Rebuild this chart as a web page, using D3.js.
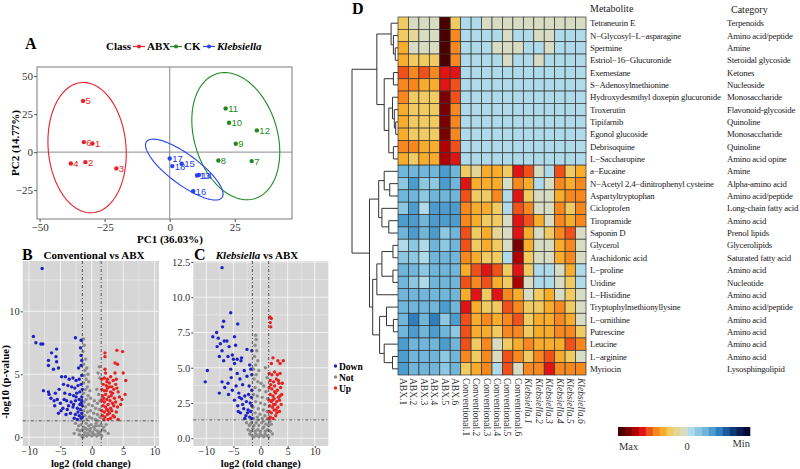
<!DOCTYPE html>
<html>
<head>
<meta charset="utf-8">
<script src="https://cdn.jsdelivr.net/npm/d3@7"></script>
<style>
  body { margin: 0; background: #fff; }
  svg { display: block; }
</style>
</head>
<body>
<div id="chart"></div>
<script>
// ---- panel A : PCA scores ----
const abxScores = [[-29.7, 5.7], [-32.4, -6.6], [-20.5, -10.7], [-38, -7.5], [-33.3, 33.7], [-33, 6.6]];
const ckScores = [[31.5, -5.9], [18.7, -5.5], [25.4, 5.5], [22.8, 19.3], [21.5, 28.7], [33.5, 14.3]];
const klebScores = [[10.5, -15.4], [11.2, -15.1], [4.6, -7.7], [9, -25.7], [0, -4.2], [1, -9.2]];
const abxIds = ['1', '2', '3', '4', '5', '6'];
const ckIds = ['7', '8', '9', '10', '11', '12'];
const klebIds = ['13', '14', '15', '16', '17', '18'];
// ellipse: centre x, centre y, then lower-triangular shape terms (data units)
const abxEllipse = [-31.75, 2.95, 15.05, -4.0, 42.7];
const ckEllipse = [25.4, 10.5, 16.9, -10.5, 40.5];
const klebEllipse = [5.6, -11.5, 14.9, -16.1, 11.9];
const pcaXTicks = [-50, -25, 0, 25];
const pcaYTicks = [50, 25, 0, -25];

// ---- panel B : Conventional vs ABX ----
const convDown = [[-7.9,13.4],[-9.3,8.0],[-8.9,7.5],[-8.1,7.4],[-7.8,7.4],[-2.6,7.9],[-1.7,7.7],[-5.6,7.0],[-6.4,6.7],[-5.7,6.4],
  [-6.9,6.1],[-5.6,6.0],[-1.8,7.1],[-1.7,6.5],[-1.6,6.1],[-6.9,5.7],[-6.1,5.4],[-5.3,5.5],[-2.1,5.5],[-1.7,5.7],[-7.7,3.7],
  [-6.9,3.6],[-4.8,4.8],[-4.2,4.8],[-3.6,4.6],[-3.0,4.7],[-2.5,4.5],[-2.0,4.6],[-1.6,4.9],[-4.5,4.2],[-3.8,4.1],[-3.2,4.0],
  [-2.7,3.9],[-2.2,4.1],[-1.7,4.2],[-1.5,3.8],[-5.8,3.5],[-5.2,3.8],[-4.3,3.5],[-3.5,3.4],[-2.9,3.3],[-2.4,3.5],[-1.9,3.6],
  [-1.6,3.2],[-6.5,3.1],[-6.0,2.9],[-5.5,3.0],[-5.0,2.7],[-4.0,2.9],[-3.3,2.8],[-2.6,2.9],[-2.0,3.0],[-1.7,2.7],[-4.6,2.3],
  [-3.9,2.2],[-3.0,2.4],[-2.3,2.3],[-1.8,2.2],[-1.5,2.5],[-5.3,1.9],[-4.1,1.8],[-3.4,1.9],[-2.6,1.8],[-2.0,1.7],[-1.6,1.9],
  [-2.3,1.4],[-1.7,1.5],[-2.9,2.6],[-2.2,2.0],[-1.9,2.6],[-1.5,1.6],[-2.5,3.2],[-3.7,2.5],[-4.4,3.0],[-6.8,3.4],[-5.9,2.5],
  [-4.9,2.1],[-2.8,1.5],[-1.6,2.9]];
const convUp = [[2.1,6.7],[2.1,6.4],[4.0,6.9],[4.9,6.8],[3.7,5.9],[4.1,5.8],[3.7,5.1],[2.1,5.4],[2.2,5.1],[5.0,5.1],[5.4,4.5],
  [5.3,3.4],[4.2,3.6],[4.2,1.4],[1.6,4.6],[2.0,4.7],[2.5,4.6],[3.0,4.8],[3.4,4.5],[1.8,4.2],[2.3,4.1],[2.8,4.3],[3.2,4.0],
  [3.8,4.2],[1.6,3.8],[2.0,3.7],[2.5,3.9],[3.0,3.6],[3.5,3.8],[4.0,3.9],[1.7,3.3],[2.2,3.4],[2.7,3.2],[3.1,3.3],[3.6,3.1],
  [4.4,3.2],[1.6,2.9],[2.0,2.8],[2.4,3.0],[2.9,2.9],[3.3,2.7],[3.8,2.8],[1.8,2.5],[2.2,2.4],[2.6,2.6],[3.0,2.3],[3.5,2.5],
  [4.6,2.6],[1.6,2.1],[2.0,2.0],[2.4,2.2],[2.8,1.9],[3.2,2.1],[3.9,2.0],[1.7,1.7],[2.1,1.6],[2.5,1.8],[3.0,1.5],[1.9,1.4],
  [2.6,1.4],[3.4,1.7],[4.1,2.4],[4.8,3.0],[2.3,3.7],[2.8,4.0],[3.3,3.5],[1.9,3.1],[2.6,2.1],[3.6,1.6],[2.4,4.4],[3.9,4.6]];
const convNot = [[-1.3,7.8],[-1.2,7.3],[-1.4,6.8],[-1.0,6.2],[-1.3,5.8],[-0.8,5.5],[-1.1,5.3],[-0.6,5.0],[-1.2,4.9],[-0.9,4.6],
  [-0.5,4.4],[-1.3,4.3],[1.2,5.6],[1.0,5.1],[1.3,4.7],[-0.7,4.0],[-1.0,3.8],[-0.3,3.7],[-1.3,3.5],[-0.6,3.3],[0.8,3.8],
  [1.1,3.4],[-0.2,3.1],[-0.9,3.0],[-1.2,2.8],[0.4,2.9],[0.9,2.7],[1.3,2.9],[-0.5,2.6],[-1.0,2.4],[0.1,2.5],[0.6,2.3],[1.2,2.2],
  [-1.3,2.1],[-0.7,2.0],[-0.2,2.1],[0.3,1.9],[0.9,1.8],[1.3,1.6],[-1.1,1.7],[-0.4,1.6],[0.0,1.5],[0.6,1.4],[-0.8,1.4],[1.0,1.3],
  [-1.4,1.3],[-2.6,1.1],[-2.1,0.9],[-1.7,1.0],[-1.3,0.8],[-0.9,1.1],[-0.5,0.9],[-0.1,1.0],[0.3,0.8],[0.7,1.1],[1.1,0.9],
  [1.5,1.0],[1.9,0.8],[2.3,1.0],[-2.3,0.6],[-1.9,0.5],[-1.5,0.6],[-1.1,0.4],[-0.7,0.6],[-0.3,0.5],[0.1,0.4],[0.5,0.6],[0.9,0.5],
  [1.3,0.4],[1.7,0.6],[2.1,0.5],[-2.0,0.2],[-1.6,0.1],[-1.2,0.2],[-0.8,0.1],[-0.4,0.2],[0.0,0.1],[0.4,0.2],[0.8,0.1],[1.2,0.2],
  [1.6,0.1],[-1.4,0.0],[-0.6,0.3],[0.2,0.3],[1.0,0.3],[-2.8,0.3],[2.6,0.3],[-0.2,0.7],[0.6,0.9],[-1.0,0.7]];

// ---- panel C : Klebsiella vs ABX ----
const klebDown = [[-7.1,12.1],[-5.5,8.9],[-6.8,8.3],[-4.2,8.1],[-7.0,7.9],[-8.1,7.5],[-8.8,7.2],[-7.8,7.1],[-6.2,6.9],[-4.8,7.2],
  [-7.4,6.7],[-6.7,6.9],[-5.8,6.5],[-8.0,6.5],[-4.6,6.6],[-7.1,6.2],[-5.2,5.9],[-6.0,5.8],[-7.6,5.8],[-4.3,5.6],[-5.0,5.6],
  [-3.5,5.7],[-2.5,6.3],[-1.6,6.2],[-6.8,5.5],[-4.8,5.3],[-3.6,5.5],[-2.0,5.2],[-9.8,4.8],[-5.5,4.9],[-4.3,4.6],[-3.0,4.8],
  [-1.8,4.9],[-10.2,4.0],[-7.1,4.0],[-6.0,3.9],[-5.4,4.3],[-3.8,4.2],[-2.5,4.4],[-1.6,4.5],[-7.6,3.2],[-6.6,3.6],[-4.5,3.7],
  [-3.3,3.8],[-2.1,3.7],[-1.6,3.4],[-5.9,3.1],[-4.0,3.2],[-2.9,3.0],[-2.2,3.1],[-1.7,2.9],[-4.8,2.7],[-3.5,2.8],[-2.6,2.6],
  [-1.9,2.5],[-1.6,2.3],[-4.2,2.3],[-3.1,2.1],[-2.3,2.0],[-1.8,1.9],[-3.7,1.8],[-2.7,1.6],[-2.0,1.5],[-1.6,1.4],[-3.3,2.4],
  [-2.4,1.8],[-2.9,1.4],[-4.1,1.9],[-3.9,2.9],[-5.2,3.4]];
const klebUp = [[1.7,8.6],[2.0,8.5],[1.8,8.2],[1.9,7.9],[2.3,5.7],[2.0,5.3],[3.2,5.5],[4.2,5.5],[3.6,5.3],[1.6,4.6],[2.1,4.5],
  [2.6,4.7],[3.1,4.5],[3.6,4.6],[1.8,4.1],[2.4,4.0],[2.9,4.2],[3.4,3.9],[1.6,3.6],[2.1,3.5],[2.6,3.7],[3.1,3.4],[3.7,3.6],
  [1.8,3.1],[2.3,3.0],[2.8,3.2],[3.3,2.9],[3.9,3.1],[1.6,2.7],[2.0,2.6],[2.5,2.8],[3.0,2.6],[3.5,2.7],[1.7,2.3],[2.2,2.2],
  [2.7,2.4],[3.2,2.2],[3.8,2.4],[1.6,1.9],[2.0,1.8],[2.5,2.0],[3.0,1.8],[3.5,1.9],[1.8,1.5],[2.3,1.4],[2.8,1.6],[1.6,1.4],
  [2.9,2.0],[2.2,2.7],[2.6,3.3],[3.3,4.1],[1.9,3.8],[2.4,2.4],[3.6,3.0],[4.0,3.9]];
const klebNot = [[-0.9,7.3],[-0.8,7.0],[-1.0,6.6],[-0.7,6.2],[-1.1,5.8],[-0.5,5.5],[-0.9,5.2],[-1.3,4.9],[-0.3,4.8],[-0.8,4.5],
  [0.9,5.0],[1.2,4.3],[-1.2,4.2],[-0.5,4.0],[0.1,3.9],[0.6,3.7],[-1.0,3.6],[-0.2,3.4],[1.0,3.3],[-1.3,3.1],[-0.6,3.0],[0.3,2.9],
  [1.3,2.8],[-0.9,2.6],[0.0,2.5],[0.8,2.4],[-1.4,2.2],[-0.4,2.1],[0.5,2.0],[1.2,1.9],[-1.0,1.8],[-0.1,1.7],[0.8,1.6],[-0.6,1.5],
  [0.3,1.4],[1.3,1.4],[-1.3,1.4],[-2.6,1.1],[-2.1,0.9],[-1.7,1.1],[-1.2,0.9],[-0.8,1.1],[-0.3,0.9],[0.2,1.1],[0.6,0.8],[1.0,1.0],
  [1.5,0.9],[2.0,1.0],[-2.3,0.6],[-1.8,0.5],[-1.4,0.7],[-1.0,0.5],[-0.5,0.6],[0.0,0.5],[0.4,0.7],[0.9,0.5],[1.3,0.6],[1.8,0.5],
  [-1.6,0.2],[-1.2,0.1],[-0.7,0.2],[-0.3,0.1],[0.2,0.2],[0.6,0.1],[1.1,0.2],[1.5,0.1],[-0.9,0.3],[0.8,0.3],[-2.0,0.3],[2.2,0.3],
  [-0.1,0.3],[-0.5,1.3],[0.5,1.2],[-1.9,1.0],[1.7,1.2]];
const fcCut = 1.5;
const pCut = 1.3;

// ---- panel D : heatmap ----
const samples = ['ABX.1', 'ABX.2', 'ABX.3', 'ABX.4', 'ABX.5', 'ABX.6',
  'Conventional.1', 'Conventional.2', 'Conventional.3', 'Conventional.4', 'Conventional.5', 'Conventional.6',
  'Klebsiella.1', 'Klebsiella.2', 'Klebsiella.3', 'Klebsiella.4', 'Klebsiella.5', 'Klebsiella.6'];
const metabolites = ['Tetraneurin E', 'N\u2212Glycosyl\u2212L\u2212asparagine', 'Spermine', 'Estriol\u221216\u2212Glucuronide',
  'Exemestane', 'S\u2212Adenosylmethionine', 'Hydroxydesmthyl doxepin glucuronide', 'Troxerutin', 'Tipifarnib',
  'Egonol glucoside', 'Debrisoquine', 'L\u2212Saccharopine', 'a\u2212Eucaine', 'N\u2212Acetyl 2,4\u2212dinitrophenyl cysteine',
  'Aspartyltryptophan', 'Cicloprofen', 'Tiropramide', 'Saponin D', 'Glycerol', 'Arachidonic acid', 'L\u2212proline',
  'Uridine', 'L\u2212Histidine', 'Tryptophylmethionyllysine', 'L\u2212ornithine', 'Putrescine', 'Leucine', 'L\u2212arginine',
  'Myriocin'];
const categories = ['Terpenoids', 'Amino acid/peptide', 'Amine', 'Steroidal glycoside', 'Ketones', 'Nucleoside',
  'Monosaccharide', 'Flavonoid-glycoside', 'Quinoline', 'Monosaccharide', 'Quinoline', 'Amino acid opine', 'Amine',
  'Alpha-amino acid', 'Amino acid/peptide', 'Long-chain fatty acid', 'Amino acid', 'Prenol lipids', 'Glycerolipids',
  'Saturated fatty acid', 'Amino acid', 'Nucleotide', 'Amino acid', 'Amino acid/peptide', 'Amino acid', 'Amino acid',
  'Amino acid', 'Amino acid', 'Lysosphingolipid'];
// scaled abundance, 9 = max ... -9 = min, one row per metabolite, columns as samples
const abundance = [
  [2, 0, 0, 0, 9, 2, -1, -1, 0, 0, 0, 0, 0, 0, 0, 0, 0, 0],
  [2, 1, 0, 0, 9, 4, -1, -1, -1, -1, 0, -1, -1, 0, 0, -1, -1, -1],
  [3, 0, 0, 0, 9, 4, -1, -1, -1, 0, 0, 0, -1, -1, 0, -1, -1, -1],
  [3, 2, 2, 2, 9, 4, -1, -1, -1, -1, 0, -1, -1, 0, -1, -1, -1, -1],
  [5, 4, 5, 4, 6, 6, -1, -1, -1, -1, -1, -1, -1, -1, -1, -1, -1, -1],
  [4, 4, 3, 3, 6, 5, -1, -1, -1, -1, -1, -1, -1, -1, -1, -1, -1, -1],
  [4, 2, 2, 2, 8, 5, -1, -1, -1, -1, -1, -1, -1, -1, -1, -1, -1, -1],
  [3, 2, 2, 2, 8, 4, -1, -1, -1, -1, -1, -1, -1, -1, -1, -1, -1, -1],
  [3, 2, 2, 2, 8, 4, -1, -1, -1, -1, -1, -1, -1, -1, -1, -1, -1, -1],
  [3, 2, 2, 2, 8, 4, -1, -1, -1, -1, -1, -1, -1, -1, -1, -1, -1, -1],
  [4, 4, 3, 3, 7, 5, -1, -1, -1, -1, -1, -1, -1, -1, -1, -1, -1, -1],
  [3, 2, 3, 3, 7, 6, -1, -1, -1, -1, -1, -1, -1, -1, -1, -1, -1, -1],
  [-3, -3, -3, -3, -4, -3, 2, 1, 3, 3, 2, 6, 5, 0, -1, 5, 2, 3],
  [-2, -4, -2, -2, -4, -3, 6, 3, 3, 3, 0, 4, 3, -1, 0, 4, 3, 4],
  [-3, -3, -2, -3, -3, -3, 5, 2, 2, 4, -1, 6, 2, 0, 0, 3, 4, 4],
  [-2, -4, -1, -4, -4, -4, 4, 3, 3, 2, -1, 5, 4, 0, 0, 4, 2, 4],
  [-4, -4, -3, -4, -4, -4, 4, 3, 2, 2, 0, 6, 5, 3, 0, 4, 3, 4],
  [-3, -4, -3, -4, -2, -3, 5, 2, 3, 1, 0, 6, 3, 0, 2, 4, 5, 0],
  [-1, -2, -1, -3, -2, -3, 5, 2, 3, 2, 0, 8, 3, 0, 0, 3, 4, 0],
  [-2, -2, -1, -3, -3, -3, 4, 3, 2, 2, -1, 7, 2, 0, 0, 3, 4, 0],
  [-3, -3, -2, -3, -3, -3, 3, 5, 6, 5, 2, 6, 2, -1, -1, 0, 3, -1],
  [-3, -2, -1, -3, -3, -3, 5, 4, 5, 3, 2, 7, 0, -1, -1, 0, 2, -1],
  [-3, -3, -3, -3, -3, -3, 3, 6, 2, 6, 4, 3, 0, 2, 3, 0, 2, 0],
  [-3, -3, -3, -3, -4, -3, 6, 3, 2, 2, 5, 4, 2, 2, 3, 4, 2, 0],
  [-3, -5, -3, -5, -2, -4, 5, 3, 4, 3, 4, 5, 2, 3, 3, 4, 3, 0],
  [-3, -4, -3, -4, -3, -2, 5, 3, 3, 2, 4, 4, 2, 3, 3, 4, 4, 2],
  [-4, -3, -3, -3, -4, -3, 5, 2, 4, 0, 2, 3, 4, 3, 3, 3, 5, 4],
  [-4, -3, -3, -3, -2, -3, 4, 2, 4, 0, 5, 4, 2, 4, 5, 3, 2, 0],
  [-4, -3, -3, -3, -2, -3, 2, 3, 4, -1, 5, 0, 4, 4, 6, 4, 4, 4]
];
// row dendrogram: [height, left, right], leaves are row indices
const rowTree = [1,
  [0.46,
    [0.15, 0, [0.1, 1, [0.06, 2, 3]]],
    [0.3, [0.1, 4, 5], [0.2, [0.12, 6, [0.08, 7, [0.05, 8, 9]]], [0.1, 10, 11]]]],
  [0.62,
    [0.42, [0.3, 12, [0.18, 13, 14]], [0.35, 15, [0.2, 16, 17]]],
    [0.55, [0.46, [0.35, [0.11, 18, 19], [0.11, 20, 21]], 22],
      [0.4, [0.25, 23, [0.1, 24, 25]], [0.3, 26, [0.12, 27, 28]]]]]];
const legendLevels = d3.range(9, -10, -1);

const serif = '"Liberation Serif", "Times New Roman", serif';
const sans = '"Liberation Sans", Arial, sans-serif';

const svg = d3.select('#chart').append('svg')
  .attr('width', 800).attr('height', 469)
  .style('background', '#fff');

// ---------- panel A ----------
const drawPca = () => {
  const x = d3.scaleLinear().domain([-51, 47]).range([37, 292]);
  const y = d3.scaleLinear().domain([-44, 56]).range([219, 67]);
  const g = svg.append('g');

  g.append('rect').attr('x', 37).attr('y', 67).attr('width', 255).attr('height', 152)
    .attr('fill', 'none').attr('stroke', '#7a7a7a').attr('stroke-width', 1);
  g.append('line').attr('x1', x(0)).attr('x2', x(0)).attr('y1', 67).attr('y2', 219)
    .attr('stroke', '#8a8a8a').attr('stroke-width', 1);
  g.append('line').attr('x1', 37).attr('x2', 292).attr('y1', y(0)).attr('y2', y(0))
    .attr('stroke', '#8a8a8a').attr('stroke-width', 1);

  const ellipse = e => d3.range(0, 2 * Math.PI + 0.05, 0.05)
    .map(t => [x(e[0] + e[2] * Math.cos(t)), y(e[1] + e[3] * Math.cos(t) + e[4] * Math.sin(t))]);
  const groups = [
    {pts: abxScores, ids: abxIds, ell: abxEllipse, col: '#e8202a'},
    {pts: ckScores, ids: ckIds, ell: ckEllipse, col: '#1f8a24'},
    {pts: klebScores, ids: klebIds, ell: klebEllipse, col: '#2543f0'}
  ];
  groups.forEach(gr => {
    g.append('path').attr('d', d3.line()(ellipse(gr.ell)))
      .attr('fill', 'none').attr('stroke', gr.col).attr('stroke-width', 1.1);
    gr.pts.forEach((p, i) => {
      g.append('circle').attr('cx', x(p[0])).attr('cy', y(p[1])).attr('r', 2.2).attr('fill', gr.col);
      g.append('text').attr('x', x(p[0]) + 2.5).attr('y', y(p[1]) + 3.5)
        .attr('font-family', sans).attr('font-size', 9.5).attr('fill', gr.col).text(gr.ids[i]);
    });
  });

  const xAxis = g.append('g').attr('transform', 'translate(0,219)')
    .call(d3.axisBottom(x).tickValues(pcaXTicks).tickSize(3).tickPadding(1));
  const yAxis = g.append('g').attr('transform', 'translate(37,0)')
    .call(d3.axisLeft(y).tickValues(pcaYTicks).tickSize(3).tickPadding(1));
  [xAxis, yAxis].forEach(a => {
    a.select('.domain').remove();
    a.selectAll('line').attr('stroke', '#555');
    a.selectAll('text').attr('font-family', serif).attr('font-size', 11).attr('fill', '#333');
  });

  g.append('text').attr('x', 170).attr('y', 243).attr('text-anchor', 'middle')
    .attr('font-family', serif).attr('font-weight', 'bold').attr('font-size', 11).text('PC1 (36.03%)');
  g.append('text').attr('transform', 'translate(19,143) rotate(-90)').attr('text-anchor', 'middle')
    .attr('font-family', serif).attr('font-weight', 'bold').attr('font-size', 11).text('PC2 (14.77%)');
  g.append('text').attr('x', 25).attr('y', 49).attr('font-family', serif).attr('font-weight', 'bold')
    .attr('font-size', 16).text('A');

  // legend
  g.append('text').attr('x', 106).attr('y', 50).attr('font-family', serif).attr('font-weight', 'bold')
    .attr('font-size', 11).text('Class');
  const items = [
    {label: 'ABX', col: '#e8202a', x: 133, italic: false},
    {label: 'CK', col: '#1f8a24', x: 170, italic: false},
    {label: 'Klebsiella', col: '#2543f0', x: 203, italic: true}
  ];
  items.forEach(it => {
    g.append('line').attr('x1', it.x).attr('x2', it.x + 12).attr('y1', 46.5).attr('y2', 46.5)
      .attr('stroke', it.col).attr('stroke-width', 1.2);
    g.append('circle').attr('cx', it.x + 6).attr('cy', 46.5).attr('r', 2).attr('fill', it.col);
    g.append('text').attr('x', it.x + 14).attr('y', 50).attr('font-family', serif).attr('font-weight', 'bold')
      .attr('font-style', it.italic ? 'italic' : 'normal').attr('font-size', 11).text(it.label);
  });
};

// ---------- panels B and C ----------
const drawVolcano = (o) => {
  const x = d3.scaleLinear().domain(o.xDomain).range(o.xRange);
  const y = d3.scaleLinear().domain(o.yDomain).range([446, 261]);
  const g = svg.append('g');
  const [x0, x1] = o.xRange;
  g.append('rect').attr('x', x0).attr('y', 261).attr('width', x1 - x0).attr('height', 185).attr('fill', '#d6d6d6');
  const xMinor = d3.range(-10, 11, 2.5).filter(v => v >= o.xDomain[0] && v <= o.xDomain[1]);
  const yMinor = o.yMinor;
  xMinor.forEach(v => g.append('line').attr('x1', x(v)).attr('x2', x(v)).attr('y1', 261).attr('y2', 446)
    .attr('stroke', '#fff').attr('stroke-width', v % 5 === 0 ? 0.9 : 0.45).attr('stroke-opacity', 0.8));
  yMinor.forEach(v => g.append('line').attr('x1', x0).attr('x2', x1).attr('y1', y(v)).attr('y2', y(v))
    .attr('stroke', '#fff').attr('stroke-width', o.yTicks.includes(v) ? 0.9 : 0.45).attr('stroke-opacity', 0.8));

  const dot = (pts, col) => pts.forEach(p => g.append('circle')
    .attr('cx', x(p[0])).attr('cy', y(p[1])).attr('r', 1.7).attr('fill', col));
  dot(o.not, '#8c8c8c');
  dot(o.down, '#2020c8');
  dot(o.up, '#e82222');

  const dash = {stroke: '#333', 'stroke-width': 0.8, 'stroke-dasharray': '3,2,1,2'};
  [-fcCut, fcCut].forEach(v => {
    const l = g.append('line').attr('x1', x(v)).attr('x2', x(v)).attr('y1', 261).attr('y2', 446);
    Object.entries(dash).forEach(([k, val]) => l.attr(k, val));
  });
  const h = g.append('line').attr('x1', x0).attr('x2', x1).attr('y1', y(pCut)).attr('y2', y(pCut));
  Object.entries(dash).forEach(([k, val]) => h.attr(k, val));

  const xAxis = g.append('g').attr('transform', 'translate(0,446)')
    .call(d3.axisBottom(x).tickValues([-10, -5, 0, 5, 10]).tickSize(2).tickPadding(0));
  const yAxis = g.append('g').attr('transform', `translate(${x0},0)`)
    .call(d3.axisLeft(y).tickValues(o.yTicks).tickFormat(o.yFormat).tickSize(2).tickPadding(1));
  [xAxis, yAxis].forEach(a => {
    a.select('.domain').remove();
    a.selectAll('line').attr('stroke', '#444');
    a.selectAll('text').attr('font-family', serif).attr('font-size', 10.5).attr('fill', '#333');
  });

  const title = g.append('text').attr('x', o.titleX).attr('y', 259).attr('text-anchor', 'middle')
    .attr('font-family', serif).attr('font-weight', 'bold').attr('font-size', 11);
  o.title.forEach(t => title.append('tspan').attr('font-style', t[1] ? 'italic' : 'normal').text(t[0]));
  g.append('text').attr('x', o.letterX).attr('y', 260).attr('font-family', serif).attr('font-weight', 'bold')
    .attr('font-size', 16).text(o.letter);
  g.append('text').attr('x', (x0 + x1) / 2).attr('y', 467).attr('text-anchor', 'middle')
    .attr('font-family', serif).attr('font-weight', 'bold').attr('font-size', 10.5).text('log2 (fold change)');
  if (o.yLabel) {
    g.append('text').attr('transform', 'translate(9,382) rotate(-90)').attr('text-anchor', 'middle')
      .attr('font-family', serif).attr('font-weight', 'bold').attr('font-size', 11).text(o.yLabel);
  }
};

const drawVolcanoLegend = () => {
  const items = [['Down', '#2020c8'], ['Not', '#8c8c8c'], ['Up', '#e82222']];
  items.forEach((it, i) => {
    svg.append('circle').attr('cx', 335.5).attr('cy', 366 + i * 11).attr('r', 1.7).attr('fill', it[1]);
    svg.append('text').attr('x', 339).attr('y', 369.5 + i * 11).attr('font-family', serif)
      .attr('font-weight', 'bold').attr('font-size', 9.5).text(it[0]);
  });
};

// ---------- panel D ----------
const heatColors = ['#4a0000', '#7a0000', '#b00000', '#e01414', '#f0501a', '#f7871f', '#f8ac2c', '#f1cb62', '#e6d696',
  '#d7dcc3', '#aedaea', '#8cc8e2', '#6fb6da', '#4c9ccd', '#2f7fbe', '#1b5aa0', '#0e3a7c', '#071f55', '#020a33'];

const drawHeatmap = () => {
  const x = d3.scaleBand().domain(samples).range([398, 586]);
  const y = d3.scaleBand().domain(metabolites).range([17, 375]);
  const color = d3.scaleOrdinal().domain(legendLevels).range(heatColors);
  const g = svg.append('g');

  abundance.forEach((row, i) => row.forEach((v, j) => {
    g.append('rect').attr('x', x(samples[j])).attr('y', y(metabolites[i]))
      .attr('width', x.bandwidth()).attr('height', y.bandwidth())
      .attr('fill', color(v)).attr('stroke', '#333').attr('stroke-width', 0.7);
  }));

  const labelStyle = t => t.attr('font-family', serif).attr('font-size', 8.8)
    .attr('letter-spacing', -0.22).attr('fill', '#222');
  metabolites.forEach((m, i) => {
    labelStyle(g.append('text').attr('x', 590).attr('y', y(m) + y.bandwidth() / 2 + 3.1)).text(m);
    labelStyle(g.append('text').attr('x', 727).attr('y', y(m) + y.bandwidth() / 2 + 3.1)).text(categories[i]);
  });
  g.append('text').attr('x', 590).attr('y', 12).attr('font-family', serif).attr('font-size', 10)
    .attr('fill', '#222').text('Metabolite');
  g.append('text').attr('x', 731).attr('y', 13).attr('font-family', serif).attr('font-size', 10)
    .attr('fill', '#222').text('Category');

  samples.forEach(s => {
    g.append('text')
      .attr('transform', `translate(${x(s) + x.bandwidth() / 2 - 3.2},378) rotate(90)`)
      .attr('font-family', serif).attr('font-size', 9.5).attr('fill', '#333')
      .attr('font-style', s.startsWith('Klebsiella') ? 'italic' : 'normal').text(s);
  });

  // dendrogram
  const dx = d3.scaleLinear().domain([0, 1]).range([398, 352]);
  const walk = node => {
    if (typeof node === 'number') {
      return {x: dx(0), y: y(metabolites[node]) + y.bandwidth() / 2};
    }
    const a = walk(node[1]);
    const b = walk(node[2]);
    const nx = dx(node[0]);
    const ny = (a.y + b.y) / 2;
    g.append('path').attr('d', `M${a.x},${a.y}H${nx}V${b.y}H${b.x}`)
      .attr('fill', 'none').attr('stroke', '#333').attr('stroke-width', 1);
    return {x: nx, y: ny};
  };
  walk(rowTree);

  g.append('text').attr('x', 352).attr('y', 14).attr('font-family', serif).attr('font-weight', 'bold')
    .attr('font-size', 16).text('D');

  // colour key
  const kx = d3.scaleBand().domain(legendLevels).range([618, 750]);
  legendLevels.forEach(v => g.append('rect').attr('x', kx(v)).attr('y', 427)
    .attr('width', kx.bandwidth() + 0.3).attr('height', 9).attr('fill', color(v)));
  g.append('text').attr('x', 619).attr('y', 450).attr('font-family', serif).attr('font-size', 10.5)
    .attr('fill', '#333').text('Max');
  g.append('text').attr('x', 687).attr('y', 450).attr('text-anchor', 'middle').attr('font-family', serif)
    .attr('font-size', 10.5).attr('fill', '#333').text('0');
  g.append('text').attr('x', 750).attr('y', 447).attr('text-anchor', 'end').attr('font-family', serif)
    .attr('font-size', 10.5).attr('fill', '#333').text('Min');
};

drawPca();
drawVolcano({
  xDomain: [-11, 10.7], xRange: [22.7, 159], yDomain: [-0.7, 14],
  yTicks: [0, 5, 10], yMinor: [0, 2.5, 5, 7.5, 10, 12.5], yFormat: d3.format('d'),
  down: convDown, up: convUp, not: convNot,
  title: [['Conventional vs ABX', false]], titleX: 94, letter: 'B', letterX: 22,
  yLabel: '-log10 (p-value)'
});
drawVolcano({
  xDomain: [-12.4, 12.5], xRange: [193.3, 328.3], yDomain: [-0.55, 12.57],
  yTicks: [0, 2.5, 5, 7.5, 10, 12.5], yMinor: [0, 1.25, 2.5, 3.75, 5, 6.25, 7.5, 8.75, 10, 11.25, 12.5],
  yFormat: d3.format('.1f'),
  down: klebDown, up: klebUp, not: klebNot,
  title: [['Klebsiella', true], [' vs ABX', false]], titleX: 257, letter: 'C', letterX: 194,
  yLabel: null
});
drawVolcanoLegend();
drawHeatmap();
</script>
</body>
</html>
